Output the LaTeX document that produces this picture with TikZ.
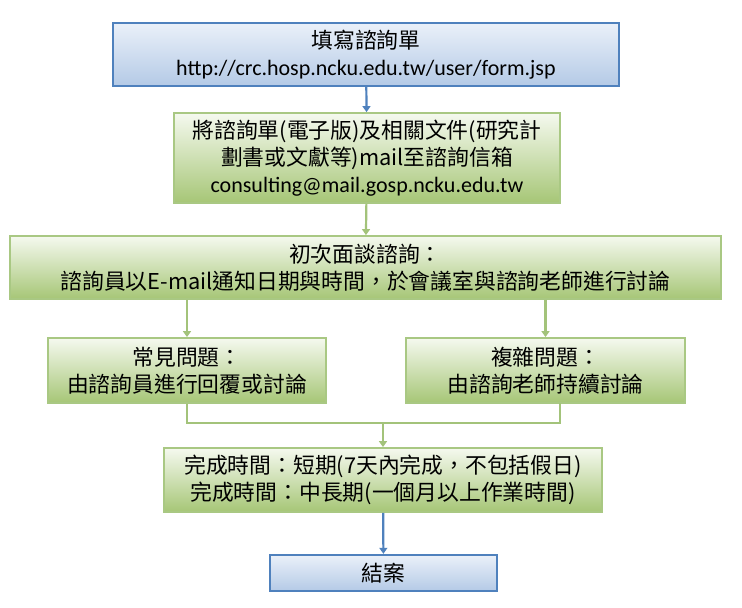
\documentclass[tikz,border=0pt]{standalone}
\usepackage{fontspec}
\setmainfont{Carlito}
\newfontfamily\cjk{Noto Sans CJK TC}
\usepackage{tikz}
\usetikzlibrary{arrows.meta}
\definecolor{bluebd}{HTML}{4F81BD}
\definecolor{bluetop}{HTML}{EAF0F9}
\definecolor{bluebot}{HTML}{B4CAE6}
\definecolor{greenbd}{HTML}{A9C883}
\definecolor{greentop}{HTML}{F5F9EF}
\definecolor{greenbot}{HTML}{A6C676}
\definecolor{greenln}{HTML}{A3C37A}
\def\zh#1{{\cjk\fontsize{21.8pt}{27pt}\selectfont #1}}

\begin{document}
\begin{tikzpicture}[x=1pt, y=-1pt,
		font=\fontsize{22pt}{27pt}\selectfont,
		bluebox/.style={draw=bluebd, line width=2.4pt, top color=bluetop, bottom color=bluebot, align=center, inner sep=0pt},
		greenbox/.style={draw=greenbd, line width=1.8pt, top color=greentop, bottom color=greenbot, align=center, inner sep=0pt},
		bluearrow/.style={draw=bluebd, line width=2.2pt, -{Triangle[length=6pt,width=8pt]}},
		greenline/.style={draw=greenln, line width=2.2pt},
		greenarrow/.style={greenline, -{Triangle[length=6pt,width=8pt]}}]
			%%%%% START %%%%%
			
			\useasboundingbox (0, 0) rectangle (742, 608);
			
			\node[bluebox, minimum width=506, minimum height=63] (fill) at (366, 54.5)
				{\zh{填寫諮詢單}\\http://crc.hosp.ncku.edu.tw/user/form.jsp};
			
			\node[greenbox, minimum width=386, minimum height=90] (mail) at (367, 158)
				{\zh{將諮詢單(電子版)及相關文件(研究計}\\\zh{劃書或文獻等)mail至諮詢信箱}\\consulting@mail.gosp.ncku.edu.tw};
			
			\node[greenbox, minimum width=711, minimum height=63] (meet) at (365.5, 267.5)
				{\zh{初次面談諮詢：}\\\zh{諮詢員以E-mail通知日期與時間，於會議室與諮詢老師進行討論}};
			
			\node[greenbox, minimum width=278, minimum height=65] (common) at (187, 370.5)
				{\zh{常見問題：}\\\zh{由諮詢員進行回覆或討論}};
			\node[greenbox, minimum width=279, minimum height=65] (complex) at (545.5, 370.5)
				{\zh{複雜問題：}\\\zh{由諮詢老師持續討論}};
			
			\node[greenbox, minimum width=438, minimum height=64] (time) at (383, 480)
				{\zh{完成時間：短期(7天內完成，不包括假日)}\\\zh{完成時間：中長期(一個月以上作業時間)}};
			
			\node[bluebox, minimum width=227, minimum height=36] (close) at (383.5, 573) {\zh{結案}};
			
			\coordinate (merge) at (383, 423);
			\coordinate (complexout) at (560, 403);
			
			\draw[bluearrow] (fill) -- (mail);
			\draw[greenarrow] (mail) -- (meet);
			\draw[greenarrow] (common.north |- meet.south) -- (common.north);
			\draw[greenarrow] (complex.north |- meet.south) -- (complex.north);
			\draw[greenline] (common.south) |- (merge) -| (complexout);
			\draw[greenarrow] (merge) -- (time.north);
			\draw[bluearrow] (time) -- (close);
			
			%%%%% END %%%%%
\end{tikzpicture}
\end{document}
